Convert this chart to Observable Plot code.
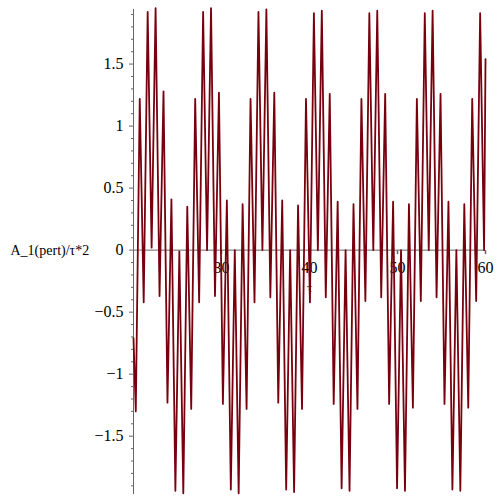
<!DOCTYPE html>
<html><head><meta charset="utf-8">
<script src="https://cdn.jsdelivr.net/npm/d3@7"></script>
<script src="https://cdn.jsdelivr.net/npm/@observablehq/plot@0.6"></script>
<style>
body{margin:0;background:#fff}
svg, svg text { font-family: "Liberation Serif", "DejaVu Serif", serif !important; }
</style>
</head><body><div id="chart"></div>
<script>
const tValues = [20, 20.26, 20.71, 21.16, 21.61, 22.06, 22.51, 22.96, 23.41, 23.86, 24.31, 24.76, 25.21, 25.66, 26.11,
  26.56, 27.01, 27.46, 27.91, 28.36, 28.81, 29.26, 29.71, 30.16, 30.61, 31.06, 31.51, 31.95, 32.40,
  32.85, 33.30, 33.75, 34.20, 34.65, 35.10, 35.55, 36.00, 36.45, 36.90, 37.35, 37.80, 38.25, 38.70,
  39.15, 39.60, 40.05, 40.50, 40.95, 41.40, 41.85, 42.30, 42.75, 43.20, 43.65, 44.10, 44.55, 45.00,
  45.45, 45.90, 46.35, 46.80, 47.25, 47.70, 48.15, 48.60, 49.05, 49.50, 49.95, 50.40, 50.85, 51.30,
  51.75, 52.20, 52.65, 53.10, 53.55, 53.99, 54.44, 54.89, 55.34, 55.79, 56.24, 56.69, 57.14, 57.59,
  58.04, 58.49, 58.94, 59.39, 59.84, 60];
const yValues = [-0.71, -1.30, 1.22, -0.42, 1.92, 0.02, 1.95, -0.37, 1.28, -1.23, 0.41, -1.94, -0.01, -1.96, 0.35,
  -1.28, 1.22, -0.42, 1.92, 0.00, 1.95, -0.37, 1.27, -1.24, 0.40, -1.93, 0.00, -1.96, 0.37,
  -1.28, 1.22, -0.42, 1.92, 0.00, 1.94, -0.38, 1.27, -1.23, 0.40, -1.93, 0.00, -1.95, 0.36,
  -1.28, 1.22, -0.42, 1.91, 0.00, 1.93, -0.38, 1.26, -1.24, 0.39, -1.92, 0.00, -1.94, 0.37,
  -1.28, 1.22, -0.41, 1.91, 0.00, 1.93, -0.38, 1.26, -1.24, 0.39, -1.92, 0.00, -1.94, 0.37,
  -1.27, 1.22, -0.41, 1.91, 0.00, 1.93, -0.38, 1.26, -1.24, 0.39, -1.93, 0.00, -1.94, 0.37,
  -1.27, 1.22, -0.41, 1.91, 0.00, 1.54];
const xTicks = [30, 40, 50, 60];
const xTickLabels = ["30", "40", "50", "60"];
const yTicks = [-1.5, -1, -0.5, 0, 0.5, 1, 1.5];
const yTickLabels = ["\u22121.5", "\u22121", "\u22120.5", "0", "0.5", "1", "1.5"];
const yMinorTicks = [-1.9,-1.8,-1.7,-1.6,-1.4,-1.3,-1.2,-1.1,-0.9,-0.8,-0.7,-0.6,-0.4,-0.3,-0.2,-0.1,
  0.1,0.2,0.3,0.4,0.6,0.7,0.8,0.9,1.1,1.2,1.3,1.4,1.6,1.7,1.8,1.9];
const yLabel = "A_1(pert)/\u03c4*2";
const xLabel = "\u03c4";

const data = tValues.map((t, i) => ({t, v: yValues[i]}));
const axisColor = "#666";
const serif = "Liberation Serif";
const tickDown = {draw(ctx) { ctx.moveTo(0, 0); ctx.lineTo(0, 4); }};

const chart = Plot.plot({
  width: 500, height: 500,
  marginLeft: 133, marginRight: 15, marginTop: 9, marginBottom: 6,
  x: {domain: [20, 60], axis: null},
  y: {domain: [-1.97, 1.94], axis: null},
  style: "font-size: 16px; background: white; color: black;",
  marks: [
    Plot.ruleX([20], {stroke: axisColor}),
    Plot.ruleY([0], {stroke: axisColor}),
    Plot.axisY(yMinorTicks, {tickSize: 2, text: null, stroke: axisColor, label: null}),
    Plot.axisY(yTicks, {tickSize: 4, tickPadding: 6, stroke: axisColor, label: null,
      tickFormat: d => yTickLabels[yTicks.indexOf(d)], fontSize: 16, fontFamily: serif}),
    Plot.dot(xTicks, {x: d => d, y: 0, symbol: tickDown, stroke: axisColor, fill: "none"}),
    Plot.text(xTicks, {x: d => d, y: 0, text: d => xTickLabels[xTicks.indexOf(d)], dy: 18, fontSize: 16, fontFamily: serif}),
    Plot.text([yLabel], {x: 20, y: 0, text: d => d, textAnchor: "start", dx: -123, fontSize: 14, fontFamily: serif}),
    Plot.text([xLabel], {x: 40, y: 0, text: d => d, dy: 38, fontSize: 13, fontFamily: serif}),
    Plot.line(data, {x: "t", y: "v", stroke: "#78000E", strokeWidth: 1.8})
  ]
});
document.getElementById("chart").appendChild(chart);
</script>
</body></html>
